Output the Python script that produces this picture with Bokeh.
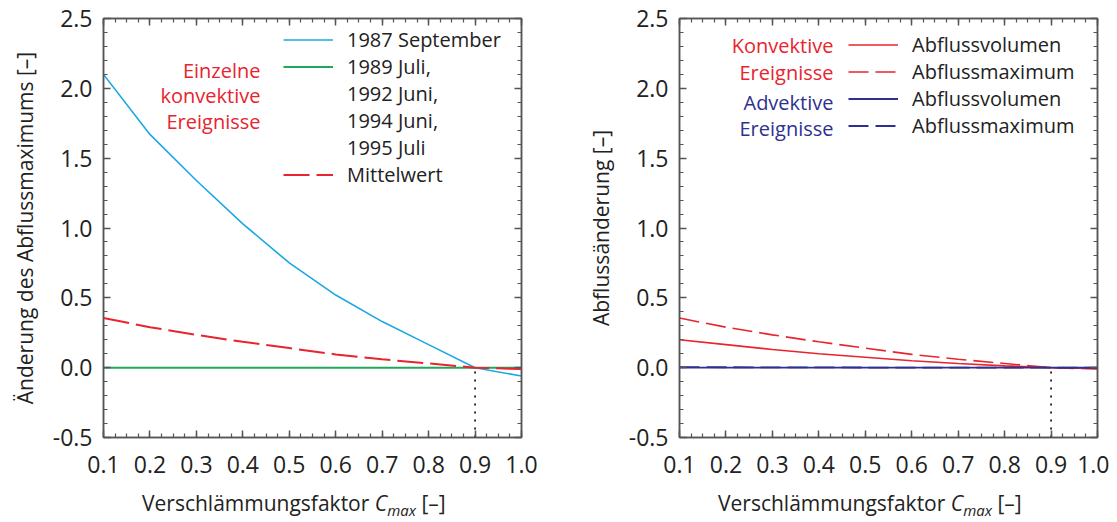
from bokeh.plotting import figure
from bokeh.models import (LinearAxis, FixedTicker, PrintfTickFormatter, Label,
                          Legend, LegendItem, Range1d, Div, CustomJSTickFormatter)
from bokeh.layouts import row, column
from bokeh.embed import file_html
from bokeh.resources import INLINE

# ---------------- data ----------------
cmax = [0.1, 0.2, 0.3, 0.4, 0.5, 0.6, 0.7, 0.8, 0.9, 1.0]
sep_1987 = [2.10, 1.67, 1.34, 1.03, 0.75, 0.52, 0.33, 0.165, 0.0, -0.06]
other_events = [0.0, 0.0, 0.0, 0.0, 0.0, 0.0, 0.0, 0.0, 0.0, 0.0]
mittelwert = [0.355, 0.29, 0.235, 0.185, 0.14, 0.095, 0.06, 0.03, 0.0, -0.01]

konv_volumen = [0.20, 0.165, 0.13, 0.10, 0.075, 0.05, 0.03, 0.013, 0.0, -0.005]
konv_maximum = [0.355, 0.29, 0.235, 0.185, 0.14, 0.095, 0.06, 0.03, 0.0, -0.01]
adv_volumen = [0.0, 0.0, 0.0, 0.0, 0.0, 0.0, 0.0, 0.0, 0.0, 0.0]
adv_maximum = [0.004, 0.003, 0.002, 0.002, 0.001, 0.001, 0.0, 0.0, 0.0, 0.0]

ref_x = [0.9]
ref_y0 = [-0.5]
ref_y1 = [0.0]

x_ticks = [0.1, 0.2, 0.3, 0.4, 0.5, 0.6, 0.7, 0.8, 0.9, 1.0]
y_ticks = [-0.5, 0.0, 0.5, 1.0, 1.5, 2.0, 2.5]

legend_left = ["1987 September", "1989 Juli,", "1992 Juni,", "1994 Juni,", "1995 Juli", "Mittelwert"]
group_left = ["Einzelne", "konvektive", "Ereignisse"]
group_right = ["Konvektive", "Ereignisse", "Advektive", "Ereignisse"]
legend_right = ["Abflussvolumen", "Abflussmaximum", "Abflussvolumen", "Abflussmaximum"]
ylabel_left = "Änderung des Abflussmaximums [–]"
ylabel_right = "Abflussänderung [–]"
xlabel_main = "Verschlämmungsfaktor"
xlabel_sym = "C"
xlabel_sub = "max"
xlabel_unit = "[–]"

# ---------------- styles ----------------
FONT = "Open Sans"
C_BLUE = "#1BA8E2"
C_GREEN = "#20A85A"
C_RED = "#E8242E"
C_NAVY = "#2E3190"
C_TXT = "#222222"
C_AX = "#555555"

FRAME_W = 418
FRAME_H = 419
TOP_B = 18
BOT_B = 53

minor_x = [round(0.1 + 0.025 * i, 4) for i in range(37)]
minor_y = [round(-0.5 + 0.1 * i, 4) for i in range(31)]


def style_axis(ax, labels=True):
    ax.axis_line_color = C_AX
    ax.axis_line_width = 1.5
    ax.major_tick_line_color = C_AX
    ax.minor_tick_line_color = C_AX
    ax.major_tick_line_width = 1.5
    ax.minor_tick_line_width = 1.2
    ax.major_tick_in = 7
    ax.major_tick_out = 0
    ax.minor_tick_in = 4
    ax.minor_tick_out = 0
    ax.major_label_text_font = FONT
    ax.major_label_text_color = C_TXT
    if labels:
        ax.major_label_text_font_size = "23px"
    else:
        ax.formatter = CustomJSTickFormatter(code="return ''")
        ax.major_label_text_font_size = "1px"
        ax.major_label_standoff = 0


def make_fig(left_border, right_border, ylabel, ylabel_standoff):
    p = figure(frame_width=FRAME_W, frame_height=FRAME_H,
               x_range=Range1d(0.1, 1.0), y_range=Range1d(-0.5, 2.5),
               output_backend="svg", toolbar_location=None,
               min_border_left=left_border, min_border_right=right_border,
               min_border_top=TOP_B, min_border_bottom=BOT_B)
    p.grid.visible = False
    p.outline_line_color = C_AX
    p.outline_line_width = 1.5
    p.background_fill_color = "white"
    p.border_fill_color = "white"
    p.xaxis.ticker = FixedTicker(ticks=x_ticks, minor_ticks=minor_x)
    p.yaxis.ticker = FixedTicker(ticks=y_ticks, minor_ticks=minor_y)
    p.xaxis.formatter = PrintfTickFormatter(format="%.1f")
    p.yaxis.formatter = PrintfTickFormatter(format="%.1f")
    style_axis(p.xaxis[0])
    style_axis(p.yaxis[0])
    p.xaxis.major_label_standoff = 18
    p.yaxis.major_label_standoff = 11
    p.yaxis.axis_label = ylabel
    p.yaxis.axis_label_text_font = FONT
    p.yaxis.axis_label_text_font_size = "21px"
    p.yaxis.axis_label_text_font_style = "normal"
    p.yaxis.axis_label_text_color = C_TXT
    p.yaxis.axis_label_standoff = ylabel_standoff
    top = LinearAxis(ticker=FixedTicker(ticks=x_ticks, minor_ticks=minor_x))
    right = LinearAxis(ticker=FixedTicker(ticks=y_ticks, minor_ticks=minor_y))
    style_axis(top, labels=False)
    style_axis(right, labels=False)
    p.add_layout(top, "above")
    p.add_layout(right, "right")
    return p


def px2x(px):
    return 0.1 + px * (0.9 / FRAME_W)


def py2y(py):
    return 2.5 - py * (3.0 / FRAME_H)


def xlabel_div(width, pad_left):
    html = (f'<div style="font-family:\'{FONT}\';font-size:21px;color:{C_TXT};'
            f'line-height:21px;white-space:nowrap;padding-left:{pad_left}px;padding-top:3px;">'
            f'{xlabel_main} <i>{xlabel_sym}</i><i style="font-size:15px;position:relative;top:5px;">'
            f'{xlabel_sub}</i> {xlabel_unit}</div>')
    return Div(text=html, width=width, height=30, margin=(0, 0, 0, 0))


# ---------------- left panel ----------------
W1 = 579
p1 = make_fig(103, W1 - 103 - FRAME_W, ylabel_left, 11)
r_sep = p1.line(cmax, sep_1987, line_color=C_BLUE, line_width=1.6)
r_oth = p1.line(cmax, other_events, line_color=C_GREEN, line_width=2)
r_mit = p1.line(cmax, mittelwert, line_color=C_RED, line_width=2, line_dash="26 7")
p1.segment(x0=ref_x, y0=ref_y0, x1=ref_x, y1=ref_y1, line_color="black",
           line_width=1.6, line_dash="2 6")
r_blank = p1.line([], [], line_alpha=0)

items1 = [LegendItem(label=legend_left[0], renderers=[r_sep]),
          LegendItem(label=legend_left[1], renderers=[r_oth]),
          LegendItem(label=legend_left[2], renderers=[r_blank]),
          LegendItem(label=legend_left[3], renderers=[r_blank]),
          LegendItem(label=legend_left[4], renderers=[r_blank]),
          LegendItem(label=legend_left[5], renderers=[r_mit])]
leg1 = Legend(items=items1, location=(180, 249), glyph_width=50, glyph_height=21,
              label_height=21, spacing=0, label_standoff=14, padding=0, margin=0,
              border_line_alpha=0, background_fill_alpha=0,
              label_text_font=FONT, label_text_font_size="20px", label_text_color=C_TXT)
p1.add_layout(leg1, "center")

for i, t in enumerate(group_left):
    p1.add_layout(Label(x=px2x(157), y=py2y([51.5, 76.5, 102.5][i]), text=t,
                        text_align="right", text_baseline="middle", text_font=FONT,
                        text_font_size="20px", text_color=C_RED))

# ---------------- right panel ----------------
W2 = 530
p2 = make_fig(100, W2 - 100 - FRAME_W, ylabel_right, 11)
r_kv = p2.line(cmax, konv_volumen, line_color=C_RED, line_width=1.6)
r_km = p2.line(cmax, konv_maximum, line_color=C_RED, line_width=1.6, line_dash="20 7")
r_av = p2.line(cmax, adv_volumen, line_color=C_NAVY, line_width=1.8)
r_am = p2.line(cmax, adv_maximum, line_color=C_NAVY, line_width=1.8, line_dash="20 7")
p2.segment(x0=ref_x, y0=ref_y0, x1=ref_x, y1=ref_y1, line_color="black",
           line_width=1.6, line_dash="2 6")

items2 = [LegendItem(label=legend_right[0], renderers=[r_kv]),
          LegendItem(label=legend_right[1], renderers=[r_km]),
          LegendItem(label=legend_right[2], renderers=[r_av]),
          LegendItem(label=legend_right[3], renderers=[r_am])]
leg2 = Legend(items=items2, location=(169, 298), glyph_width=50, glyph_height=21,
              label_height=21, spacing=0, label_standoff=14, padding=0, margin=0,
              border_line_alpha=0, background_fill_alpha=0,
              label_text_font=FONT, label_text_font_size="20px", label_text_color=C_TXT)
p2.add_layout(leg2, "center")

for i, t in enumerate(group_right):
    col = C_RED if i < 2 else C_NAVY
    p2.add_layout(Label(x=px2x(154), y=py2y([26.5, 53.5, 83.5, 109.5][i]), text=t,
                        text_align="right", text_baseline="middle", text_font=FONT,
                        text_font_size="20px", text_color=col))

d1 = xlabel_div(W1, 142)
d2 = xlabel_div(W2, 139)

layout = row(column(p1, d1, spacing=0), column(p2, d2, spacing=0), spacing=0)
open("out.html", "w").write(file_html(layout, INLINE))
